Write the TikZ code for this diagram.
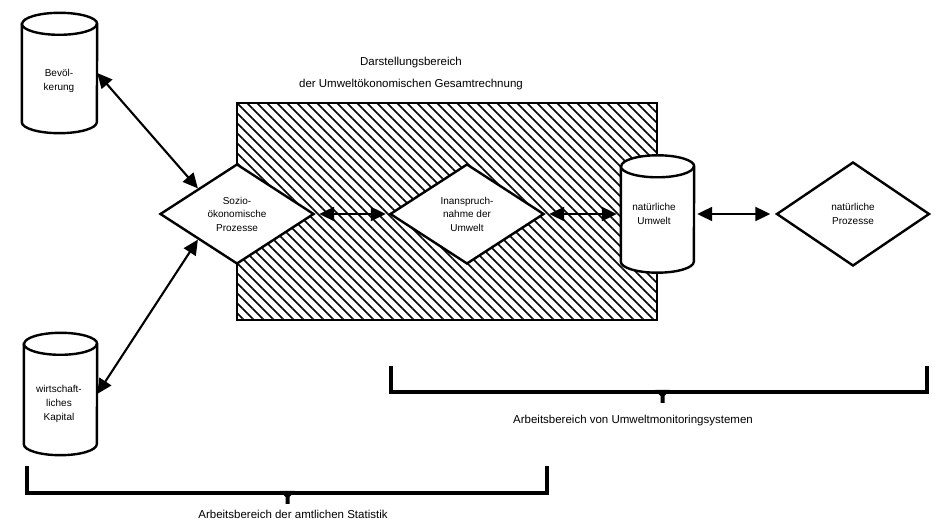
\documentclass[tikz,border=0pt]{standalone}
\usepackage{fontspec}
\setmainfont{Liberation Sans}
\usetikzlibrary{shapes.geometric,arrows.meta,patterns.meta,calc}

\tikzset{
  outline/.style={line width=2.4pt, draw=black, fill=white},
  proc/.style={diamond, outline, inner sep=0pt, minimum width=154pt,
    minimum height=100pt, align=center, font=\fontsize{10}{13.5}\selectfont},
  drumbox/.style={inner sep=0pt, draw=none},
  drumtext/.style={align=center, inner sep=0pt, font=\fontsize{10}{14}\selectfont},
  link/.style={line width=2.1pt,
    {Triangle[length=15pt,width=14pt]}-{Triangle[length=15pt,width=14pt]}},
  zone/.style={draw=black, line width=2.4pt,
    pattern={Lines[angle=-45,distance=7.0711pt,line width=1.6pt]}},
  brace/.style={line width=3.8pt, line join=miter, line cap=butt},
  caption/.style={align=center, inner sep=0pt, font=\fontsize{11.5}{22}\selectfont}
}

% upright drum outline around a named box: node, x radius, y radius
\newcommand\drumdraw[3]{%
  \draw[outline] ([yshift=-#3]#1.north west) -- ([yshift=#3]#1.south west)
    arc[start angle=180, end angle=360, x radius=#2, y radius=#3]
    -- ([yshift=-#3]#1.north east)
    arc[start angle=0, end angle=180, x radius=#2, y radius=#3] -- cycle;
  \draw[line width=2.4pt] ([yshift=-#3]#1.north west)
    arc[start angle=180, end angle=360, x radius=#2, y radius=#3];
}

\begin{document}
\begin{tikzpicture}[x=1pt, y=-1pt]
  \fill[white] (0,0) rectangle (938,526);
  \useasboundingbox (0,0) rectangle (938,526);

  % hatched accounting area
  \node[zone, minimum width=420pt, minimum height=217pt, inner sep=0pt] (area) at (447,211.5) {};
  \node[caption] (title) at (411,74) {Darstellungsbereich\\der Umweltökonomischen Gesamtrechnung};

  % stocks
  \node[drumbox, minimum width=75pt, minimum height=120pt] (bev) at (59.5,73) {};
  \drumdraw{bev}{37.5pt}{11pt}
  \node[drumtext] (bevt) at (59,81) {Bevöl-\\kerung};

  \node[drumbox, minimum width=73pt, minimum height=122pt] (kap) at (60.5,394) {};
  \drumdraw{kap}{36.5pt}{11pt}
  \node[drumtext] (kapt) at (59,404) {wirtschaft-\\liches\\Kapital};

  \node[drumbox, minimum width=73pt, minimum height=117pt] (umw) at (657.5,214) {};
  \drumdraw{umw}{36.5pt}{11pt}
  \node[drumtext] (umwt) at (654,214) {natürliche\\Umwelt};

  % processes
  \node[proc] (soz) at (237,214) {Sozio-\\ökonomische\\Prozesse};
  \node[proc] (ins) at (467,214) {Inanspruch-\\nahme der\\Umwelt};
  \node[proc, minimum width=153pt, minimum height=104pt] (proz) at (853,214) {natürliche\\Prozesse};

  % flows
  \draw[link, shorten <=4pt, shorten >=3pt] (soz.east) -- (ins.west);
  \draw[link, shorten <=4pt, shorten >=4pt] (ins.east) -- (umw.west);
  \draw[link, shorten <=3pt, shorten >=5pt] (umw.east) -- (proz.west);
  \draw[link] (bev.east) -- ($(soz.west)!0.5!(soz.north)$);
  \draw[link] (kap.east) -- ($(soz.west)!0.5!(soz.south)$);

  % scope brackets
  \coordinate (stL) at (27,466);
  \coordinate (stR) at (547,466);
  \draw[brace] (stL) |- ($(stR)+(0,27)$) -- (stR);
  \fill (280,491) -- (295,491) -- (289.5,497) -- (289.5,504) -- (285.5,504) -- (285.5,497) -- cycle;
  \node[caption] (stat) at (293,514) {Arbeitsbereich der amtlichen Statistik};

  \coordinate (moL) at (391,366);
  \coordinate (moR) at (927,366);
  \draw[brace] (moL) |- ($(moR)+(0,26)$) -- (moR);
  \fill (655,390) -- (670,390) -- (664.5,396) -- (664.5,403) -- (660.5,403) -- (660.5,396) -- cycle;
  \node[caption] (moni) at (633,421) {Arbeitsbereich von Umweltmonitoringsystemen};
\end{tikzpicture}
\end{document}
